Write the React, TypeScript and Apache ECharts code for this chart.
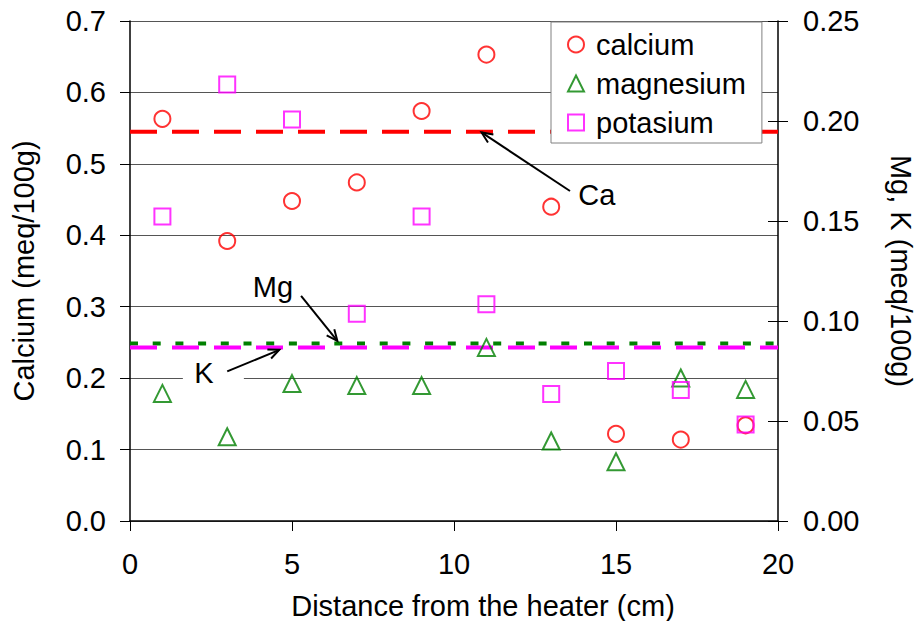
import React, { useEffect, useRef } from "react";
import * as echarts from "echarts";

const distance = [1, 3, 5, 7, 9, 11, 13, 15, 17, 19];
const calcium = [0.563, 0.392, 0.448, 0.474, 0.574, 0.653, 0.44, 0.122, 0.114, 0.134];
const magnesium = [0.0638, 0.0421, 0.0687, 0.0677, 0.0677, 0.0868, 0.04, 0.0296, 0.0715, 0.0658];
const potasium = [0.1523, 0.2183, 0.2008, 0.1036, 0.1523, 0.1084, 0.0635, 0.075, 0.0655, 0.0482];
const caLevel = 0.545;
const mgLevel = 0.0888;
const kLevel = 0.0868;
const xRange = [0, 20];
const leftTicks = [0, 0.7, 0.1];
const rightTicks = [0, 0.25, 0.05];

// annotation anchors in data coordinates (axis: 0 = calcium axis, 1 = Mg/K axis)
const annotations = [
  { label: "Ca", axis: 0, text: [14.41, 0.456], tail: [13.58, 0.462], tip: [10.85, 0.544], box: false },
  { label: "Mg", axis: 1, text: [4.41, 0.1171], tail: [5.28, 0.1126], tip: [6.4, 0.0901], box: false },
  { label: "K", axis: 1, text: [2.28, 0.0742], tail: [3.0, 0.0748], tip: [4.61, 0.0856], box: true },
];

const FONT = "'Liberation Sans', Arial, sans-serif";
const FS = 29;

export default function App() {
  const ref = useRef<HTMLDivElement>(null);
  useEffect(() => {
    const chart = echarts.init(ref.current!, null, { renderer: "svg" });
    const pts = (ys: number[]) => distance.map((x, i) => [x, ys[i]]);
    const markerStyle = (c: string) => ({ color: "rgba(255,255,255,0)", borderColor: c, borderWidth: 2 });
    chart.setOption({
      animation: false,
      backgroundColor: "#fff",
      textStyle: { fontFamily: FONT },
      grid: { left: 130, top: 21, width: 648, height: 500, containLabel: false, outerBoundsMode: "none" },
      legend: {
        data: ["calcium", "magnesium", "potasium"],
        orient: "vertical",
        left: 551,
        top: 22,
        padding: [8, 16, 6, 16],
        itemGap: 10,
        itemWidth: 16,
        itemHeight: 16,
        borderColor: "#808080",
        borderWidth: 1,
        backgroundColor: "#fff",
        textStyle: { fontSize: FS, color: "#000", fontFamily: FONT, padding: [0, 0, 0, 7] },
      },
      xAxis: {
        type: "value",
        min: xRange[0],
        max: xRange[1],
        interval: 5,
        name: "Distance from the heater (cm)",
        nameLocation: "middle",
        nameGap: 70,
        nameTextStyle: { fontSize: FS, color: "#000", fontFamily: FONT, padding: [0, 0, 0, 58] },
        axisLine: { onZero: false, lineStyle: { color: "#000", width: 1.5 } },
        axisTick: { show: true, inside: false, length: 10, lineStyle: { color: "#000" } },
        axisLabel: { fontSize: FS, color: "#000", margin: 28, fontFamily: FONT },
        splitLine: { show: false },
      },
      yAxis: [
        {
          type: "value",
          position: "left",
          min: leftTicks[0],
          max: leftTicks[1],
          interval: leftTicks[2],
          name: "Calcium (meq/100g)",
          nameLocation: "middle",
          nameRotate: 90,
          nameGap: 92,
          nameTextStyle: { fontSize: FS, color: "#000", fontFamily: FONT },
          axisLine: { show: true, lineStyle: { color: "#000", width: 1.5 } },
          axisTick: { show: true, inside: false, length: 10, lineStyle: { color: "#000" } },
          axisLabel: { fontSize: FS, color: "#000", margin: 24, fontFamily: FONT, formatter: (v: number) => v.toFixed(1) },
          splitLine: { show: true, lineStyle: { color: "#555", width: 1 } },
        },
        {
          type: "value",
          position: "right",
          min: rightTicks[0],
          max: rightTicks[1],
          interval: rightTicks[2],
          name: "Mg, K (meq/100g)",
          nameLocation: "middle",
          nameRotate: -90,
          nameGap: 108,
          nameTextStyle: { fontSize: FS, color: "#000", fontFamily: FONT },
          axisLine: { show: true, lineStyle: { color: "#000", width: 1.5 } },
          axisTick: { show: true, inside: false, length: 10, lineStyle: { color: "#000" } },
          axisLabel: { fontSize: FS, color: "#000", margin: 25, fontFamily: FONT, formatter: (v: number) => v.toFixed(2) },
          splitLine: { show: false },
        },
        {
          type: "value",
          position: "right",
          min: rightTicks[0],
          max: rightTicks[1],
          interval: rightTicks[2],
          axisLine: { show: false },
          axisTick: { show: true, inside: true, length: 10, lineStyle: { color: "#000" } },
          axisLabel: { show: false },
          splitLine: { show: false },
        },
      ],
      series: [
        {
          name: "Ca level",
          type: "line",
          yAxisIndex: 0,
          data: [[xRange[0], caLevel], [xRange[1], caLevel]],
          symbol: "none",
          lineStyle: { color: "#ff0000", width: 4, type: [27, 15] },
          z: 1,
        },
        {
          name: "Mg level",
          type: "line",
          yAxisIndex: 1,
          data: [[xRange[0], mgLevel], [xRange[1], mgLevel]],
          symbol: "none",
          lineStyle: { color: "#008000", width: 4, type: [8, 14.7] },
          z: 1,
        },
        {
          name: "K level",
          type: "line",
          yAxisIndex: 1,
          data: [[xRange[0], kLevel], [xRange[1], kLevel]],
          symbol: "none",
          lineStyle: { color: "#ff00ff", width: 4, type: [27, 15] },
          z: 1,
        },
        {
          name: "calcium",
          type: "scatter",
          yAxisIndex: 0,
          data: pts(calcium),
          symbol: "circle",
          symbolSize: 16,
          itemStyle: markerStyle("#ff0000"),
          z: 3,
        },
        {
          name: "magnesium",
          type: "scatter",
          yAxisIndex: 1,
          data: pts(magnesium),
          symbol: "triangle",
          symbolSize: 17,
          itemStyle: markerStyle("#008000"),
          z: 3,
        },
        {
          name: "potasium",
          type: "scatter",
          yAxisIndex: 1,
          data: pts(potasium),
          symbol: "rect",
          symbolSize: 16,
          itemStyle: markerStyle("#ff00ff"),
          z: 3,
        },
      ],
    });

    const toPx = (axis: number, p: number[]) =>
      chart.convertToPixel({ xAxisIndex: 0, yAxisIndex: axis }, p) as number[];
    const elements: any[] = [];
    annotations.forEach((a) => {
      const t = toPx(a.axis, a.text);
      const s = toPx(a.axis, a.tail);
      const e = toPx(a.axis, a.tip);
      if (a.box) {
        elements.push({
          type: "rect",
          shape: { x: t[0] - 21, y: t[1] - 15, width: 61, height: 30 },
          style: { fill: "#fff" },
          z: 5,
        });
      }
      elements.push({
        type: "text",
        x: t[0],
        y: t[1],
        style: { text: a.label, font: `${FS}px ${FONT}`, fill: "#000", align: "center", verticalAlign: "middle" },
        z: 6,
      });
      elements.push({
        type: "line",
        shape: { x1: s[0], y1: s[1], x2: e[0], y2: e[1] },
        style: { stroke: "#000", lineWidth: 2 },
        z: 6,
      });
      const ang = Math.atan2(e[1] - s[1], e[0] - s[0]);
      const L = 12;
      const w = 0.42;
      elements.push({
        type: "polyline",
        shape: {
          points: [
            [e[0] - L * Math.cos(ang - w), e[1] - L * Math.sin(ang - w)],
            [e[0], e[1]],
            [e[0] - L * Math.cos(ang + w), e[1] - L * Math.sin(ang + w)],
          ],
        },
        style: { stroke: "#000", lineWidth: 2, fill: null },
        z: 6,
      });
    });
    chart.setOption({ graphic: elements });

    return () => chart.dispose();
  }, []);

  return (
    <div
      ref={ref}
      style={{ position: "fixed", left: 0, top: 0, width: 916, height: 621, background: "#fff" }}
    />
  );
}
